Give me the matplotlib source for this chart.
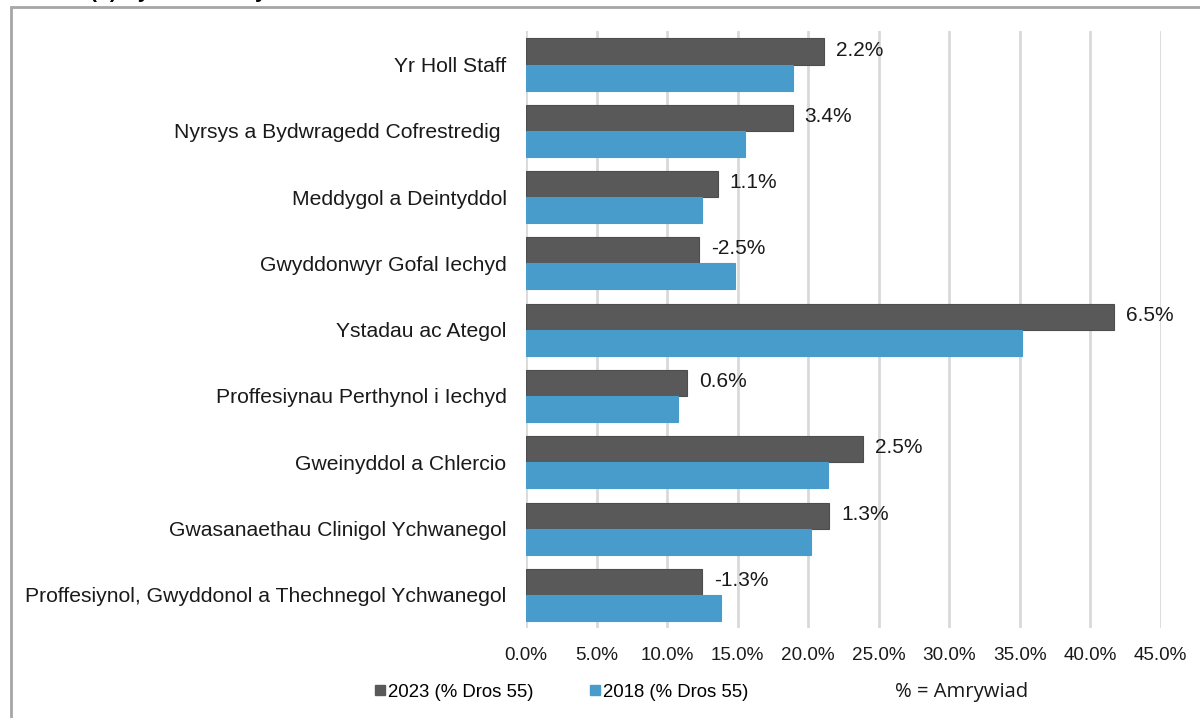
import matplotlib
matplotlib.use("Agg")
import matplotlib.pyplot as plt
from matplotlib.lines import Line2D
from matplotlib.patches import Rectangle
import numpy as np

plt.rcParams['font.family'] = ['Liberation Sans', 'DejaVu Sans']

# Data
categories = [
    "Yr Holl Staff",
    "Nyrsys a Bydwragedd Cofrestredig ",
    "Meddygol a Deintyddol",
    "Gwyddonwyr Gofal Iechyd",
    "Ystadau ac Ategol",
    "Proffesiynau Perthynol i Iechyd",
    "Gweinyddol a Chlercio",
    "Gwasanaethau Clinigol Ychwanegol",
    "Proffesiynol, Gwyddonol a Thechnegol Ychwanegol",
]
vals_2023 = [21.1, 18.9, 13.6, 12.3, 41.7, 11.4, 23.9, 21.5, 12.5]
vals_2018 = [18.9, 15.5, 12.5, 14.8, 35.2, 10.8, 21.4, 20.2, 13.8]
change_labels = ["2.2%", "3.4%", "1.1%", "-2.5%", "6.5%", "0.6%", "2.5%", "1.3%", "-1.3%"]
xticks = np.arange(0, 46, 5)

dark = "#595959"
blue = "#489CCB"

fig = plt.figure(figsize=(12, 7.18), dpi=100)
ax = fig.add_axes([526 / 1200, 1 - 628 / 718, (1160.7 - 526) / 1200, (628 - 31.4) / 718])

y = np.arange(len(categories))
h = 0.393
ax.barh(y - h / 2, vals_2023, height=h, color=dark, edgecolor="#4d4d4d", linewidth=0.8, zorder=3)
ax.barh(y + h / 2, vals_2018, height=h, color=blue, edgecolor=blue, linewidth=0.8, zorder=3)

for yi, v, lab in zip(y, vals_2023, change_labels):
    ax.annotate(lab, (v, yi - h / 2), xytext=(8.6, 1), textcoords="offset points",
                va="center", ha="left", fontsize=15, color="#1a1a1a")

ax.set_xlim(0, 45)
ax.set_ylim(len(categories) - 0.5, -0.5)
ax.set_xticks(xticks)
ax.set_xticklabels([f"{t:.1f}%" for t in xticks])
ax.set_yticks(y)
ax.set_yticklabels(categories)
ax.tick_params(axis="both", length=0, colors="#1a1a1a")
ax.tick_params(axis="x", pad=14, labelsize=13.6)
ax.tick_params(axis="y", pad=14, labelsize=15.2)
ax.grid(axis="x", color="#d9d9d9", linewidth=2, zorder=0)
for s in ax.spines.values():
    s.set_visible(False)

# outer chart frame (extends past the image edges)
fig.patches.append(Rectangle((11 / 1200, -0.1), 1.2, 1 - 7 / 718 + 0.1, transform=fig.transFigure,
                             fill=False, edgecolor="#a6a6a6", linewidth=2))

# clipped title above the frame
fig.text(90 / 1200, 1 + 2 / 718, "(b) Byrddau Iechyd", fontsize=15, fontweight="bold",
         va="baseline", ha="left")

handles = [
    Line2D([], [], marker="s", linestyle="none", markersize=7.5, color=dark),
    Line2D([], [], marker="s", linestyle="none", markersize=7.5, color=blue),
]
fig.legend(handles, ["2023 (% Dros 55)", "2018 (% Dros 55)"], ncol=2, frameon=False,
           loc="center left", bbox_to_anchor=(374 / 1200, 1 - 692 / 718), borderpad=0,
           handlelength=0.6, handletextpad=0.15, columnspacing=3.0, fontsize=13.4,
           borderaxespad=0)
fig.text(895 / 1200, 1 - 692 / 718, "% = Amrywiad", fontsize=14.6, family="Open Sans",
         va="center", ha="left", color="#1a1a1a")

fig.savefig("out.png", dpi=100)
